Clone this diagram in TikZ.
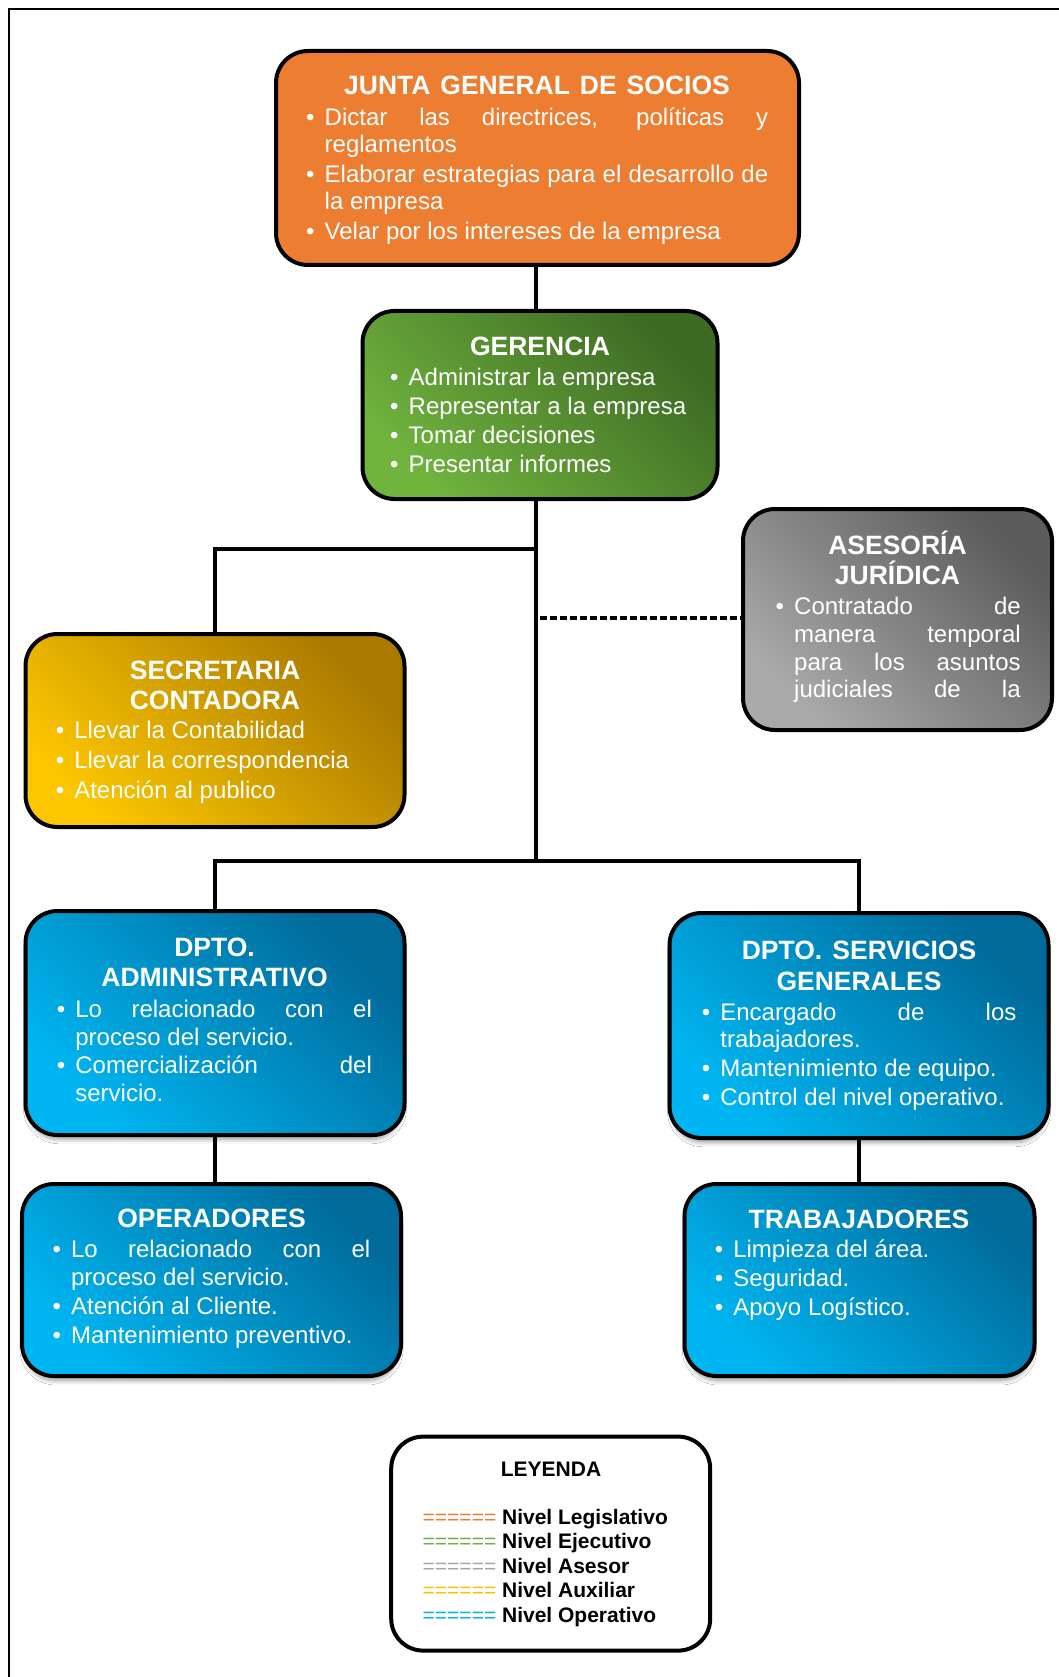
\documentclass[tikz,border=0pt]{standalone}
\usepackage{fontspec}
\setmainfont{Liberation Sans}
\usetikzlibrary{shadows.blur}
\definecolor{jOr}{RGB}{237,125,49}
\definecolor{gL}{RGB}{112,180,62}
\definecolor{gD}{RGB}{62,106,36}
\definecolor{yL}{RGB}{252,198,0}
\definecolor{yD}{RGB}{170,122,0}
\definecolor{aL}{RGB}{170,170,170}
\definecolor{aD}{RGB}{92,92,92}
\definecolor{bL}{RGB}{0,182,242}
\definecolor{bD}{RGB}{0,106,154}
\definecolor{lOr}{RGB}{237,125,49}
\definecolor{lGr}{RGB}{112,173,71}
\definecolor{lGy}{RGB}{165,165,165}
\definecolor{lYe}{RGB}{255,192,0}
\definecolor{lBl}{RGB}{0,176,240}
\newlength\bind
\setlength\bind{18.5pt}
\newcommand\bitem[1]{\hangindent=\bind\hangafter=1\noindent\hbox to \bind{\textbullet\hfil}#1\par}
\newcommand\bodyset[2]{\fontsize{24}{#1}\selectfont\spaceskip=0pt\xspaceskip=0pt\parskip=#2\relax\rightskip=0pt\leftskip=0pt\parfillskip=0pt plus 1fil\relax}
\newcommand\nsp{\spaceskip=0pt\xspaceskip=0pt\relax}
\tikzset{
  box/.style={draw=black, line width=4pt, rounded corners=32pt, inner sep=0pt},
  gbox/.style={box, top color=gD, bottom color=gL, shading angle=-45},
  ybox/.style={box, top color=yD, bottom color=yL, shading angle=-45},
  abox/.style={box, top color=aD, bottom color=aL, shading angle=-45},
  bbox/.style={box, top color=bD, bottom color=bL, shading angle=-45,
     blur shadow={shadow xshift=0pt, shadow yshift=-6pt, shadow blur radius=4pt, shadow opacity=35, shadow scale=0.99}},
  titleT/.style={anchor=base, inner sep=0pt, text=white, text width=#1, align=center,
     font=\bfseries\fontsize{26.5}{30.5}\selectfont},
  bodyT/.style={anchor=base west, inner sep=0pt, text=white, text width=#1},
  conn/.style={draw=black, line width=3.5pt},
}
\begin{document}
\begin{tikzpicture}[x=1pt,y=-1pt]
\fill[white] (0,0) rectangle (1059,1677);
\useasboundingbox (0,0) rectangle (1059,1677);
\draw[line width=2pt] (1059,9) -- (9,9) -- (9,1677);

% boxes
\node[box, fill=jOr, minimum width=523pt, minimum height=214pt] (junta) at (537.5,158) {};
\node[gbox, minimum width=355pt, minimum height=188pt] (gerencia) at (540,405) {};
\node[ybox, minimum width=379pt, minimum height=193pt] (secre) at (215,730.5) {};
\node[abox, minimum width=309pt, minimum height=221pt] (asesoria) at (897.5,619.5) {};
\node[bbox, minimum width=379pt, minimum height=224pt] (admin) at (215,1023) {};
\node[bbox, minimum width=379pt, minimum height=225pt] (sg) at (859,1025.5) {};
\node[bbox, minimum width=379pt, minimum height=192pt] (opera) at (211.5,1280) {};
\node[bbox, minimum width=350pt, minimum height=192pt] (trab) at (859.5,1280) {};
\node[box, fill=white, minimum width=319pt, minimum height=214pt] (leg) at (550.7,1543.6) {};

% connectors
\coordinate (split1) at (536,549);
\coordinate (dashP) at (540,618);
\coordinate (hub) at (536,861);
\draw[conn] (junta.south -| split1) -- (gerencia.north -| split1);
\draw[conn] (gerencia.south -| hub) -- (hub);
\draw[conn] (split1) -| (secre.north);
\draw[conn, dash pattern=on 7pt off 3pt] (dashP) -- (dashP -| asesoria.west);
\draw[conn] (admin.north) |- (hub) -| (sg.north);
\draw[conn] (admin.south) -- (admin.south |- opera.north);
\draw[conn] (sg.south) -- (sg.south |- trab.north);

% texts
\node[titleT=460pt] (juntaT) at (537,95) {\nsp JUNTA GENERAL DE SOCIOS};
\node[bodyT=462pt] (juntaB) at (306,126) {\bodyset{26.7pt}{3.3pt}%
\bitem{Dictar las directrices, políticas y\linebreak reglamentos}
\bitem{Elaborar estrategias para el desarrollo de\linebreak la empresa}
\bitem{Velar por los intereses de la empresa}};

\node[titleT=300pt] (gerT) at (540,355) {\nsp GERENCIA};
\node[bodyT=300pt] (gerB) at (390,385.6) {\bodyset{28.9pt}{0pt}%
\bitem{Administrar la empresa}
\bitem{Representar a la empresa}
\bitem{Tomar decisiones}
\bitem{Presentar informes}};

\node[titleT=319pt] (secT) at (215,679) {\nsp SECRETARIA\\CONTADORA};
\node[bodyT=319pt] (secB) at (55.6,738.6) {\bodyset{30pt}{0pt}%
\bitem{Llevar la Contabilidad}
\bitem{Llevar la correspondencia}
\bitem{Atención al publico}};

\node[titleT=245pt] (aseT) at (897.5,554) {\nsp ASESORÍA\\JURÍDICA};
\node[bodyT=245pt] (aseB) at (775.5,614.5) {\bodyset{27.8pt}{0pt}\parfillskip=0pt\relax
\bitem{Contratado de\linebreak manera temporal\linebreak para los asuntos\linebreak judiciales de la}};

\node[titleT=315pt] (admT) at (214.5,956) {\nsp DPTO.\\ADMINISTRATIVO};
\node[bodyT=315pt] (admB) at (56.7,1017.8) {\bodyset{27.8pt}{0pt}%
\bitem{Lo relacionado con el\linebreak proceso del servicio.}
\bitem{Comercialización del\linebreak servicio.}};

\node[titleT=314pt] (sgT) at (859,959.5) {\nsp DPTO. SERVICIOS\\GENERALES};
\node[bodyT=314.5pt] (sgB) at (701.7,1020) {\bodyset{27.8pt}{1.1pt}%
\bitem{Encargado de los\linebreak trabajadores.}
\bitem{Mantenimiento de equipo.}
\bitem{Control del nivel operativo.}};

\node[titleT=317pt] (opT) at (211.5,1227) {\nsp OPERADORES};
\node[bodyT=317.7pt] (opB) at (52.4,1257.4) {\bodyset{27.8pt}{1.5pt}%
\bitem{Lo relacionado con el\linebreak proceso del servicio.}
\bitem{Atención al Cliente.}
\bitem{Mantenimiento preventivo.}};

\node[titleT=289pt] (trT) at (859,1228) {\nsp TRABAJADORES};
\node[bodyT=289pt] (trB) at (714.6,1257.4) {\bodyset{29pt}{0pt}%
\bitem{Limpieza del área.}
\bitem{Seguridad.}
\bitem{Apoyo Logístico.}};

% legend
\node[anchor=base, inner sep=0pt, font=\bfseries\fontsize{21}{24.6}\selectfont] (legT) at (551,1476) {LEYENDA};
\node[anchor=base west, inner sep=0pt, text width=285pt, align=left, font=\fontsize{21}{24.6}\selectfont] (legB) at (422.5,1524) {\nsp
\textcolor{lOr}{======} \textbf{Nivel Legislativo}\\
\textcolor{lGr}{======} \textbf{Nivel Ejecutivo}\\
\textcolor{lGy}{======} \textbf{Nivel Asesor}\\
\textcolor{lYe}{======} \textbf{Nivel Auxiliar}\\
\textcolor{lBl}{======} \textbf{Nivel Operativo}};
\end{tikzpicture}
\end{document}
